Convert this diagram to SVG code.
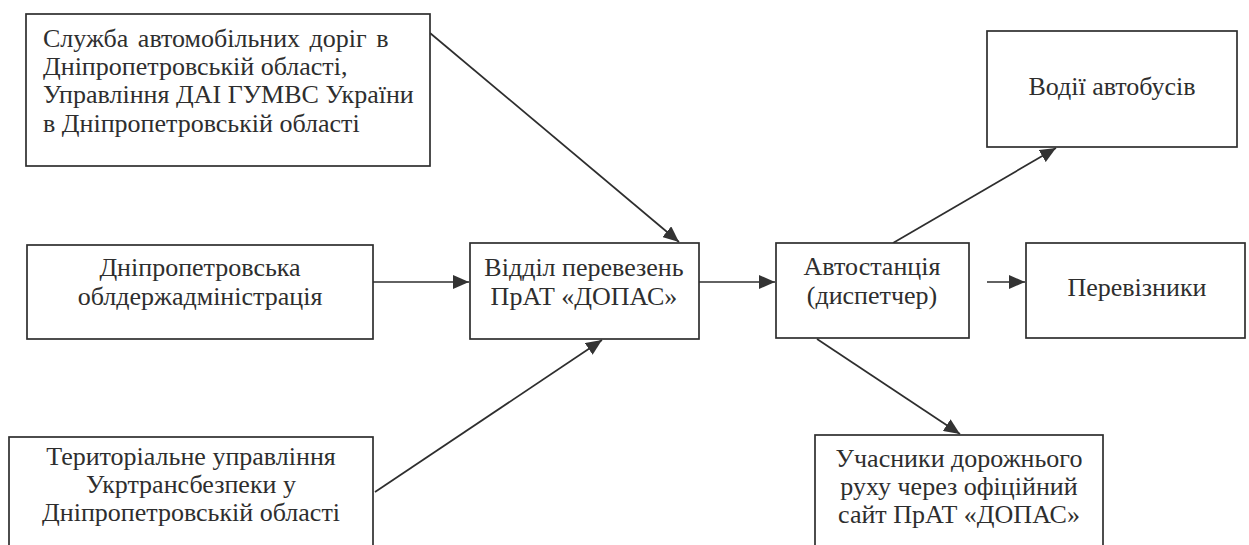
<svg xmlns="http://www.w3.org/2000/svg" width="1249" height="545" viewBox="0 0 1249 545">
<style>
.box{fill:#fff;stroke:#2e2e2e;stroke-width:1.7}
.t{font-family:"Liberation Serif","Times New Roman","DejaVu Serif",serif;font-size:26px;fill:#2e2e2e}
.c{text-anchor:middle}
.ln{stroke:#2e2e2e;stroke-width:1.7;fill:none;marker-end:url(#ah)}
</style>
<defs>
<marker id="ah" markerUnits="userSpaceOnUse" markerWidth="18" markerHeight="14" refX="16" refY="7" orient="auto">
<path d="M0,0 L16,7 L0,14 Z" fill="#333"/>
</marker>
</defs>
<rect width="1249" height="545" fill="#fff"/>
<g id="connectors">
<line class="ln" x1="430" y1="33" x2="679" y2="242"/>
<line class="ln" x1="373" y1="282" x2="469" y2="282"/>
<line class="ln" x1="375" y1="492" x2="602" y2="340"/>
<line class="ln" x1="699" y1="282" x2="775" y2="282"/>
<line class="ln" x1="893" y1="243" x2="1056" y2="148"/>
<line class="ln" x1="987" y1="282" x2="1025" y2="282"/>
<line class="ln" x1="817" y1="339" x2="960" y2="434"/>
</g>
<g id="n-sluzhba">
<rect class="box" x="26" y="14" width="404" height="152"/>
<text class="t" x="43" y="47" word-spacing="3">Служба автомобільних доріг в</text>
<text class="t" x="43" y="75">Дніпропетровській області,</text>
<text class="t" x="43" y="103">Управління ДАІ ГУМВС України</text>
<text class="t" x="43" y="132">в Дніпропетровській області</text>
</g>
<g id="n-oda">
<rect class="box" x="27" y="245" width="346" height="94"/>
<text class="t c" x="200" y="276">Дніпропетровська</text>
<text class="t c" x="200" y="305">облдержадміністрація</text>
</g>
<g id="n-terytorialne">
<rect class="box" x="9" y="437" width="364" height="130"/>
<text class="t c" x="191" y="465">Територіальне управління</text>
<text class="t c" x="191" y="493">Укртрансбезпеки у</text>
<text class="t c" x="191" y="521">Дніпропетровській області</text>
</g>
<g id="n-viddil">
<rect class="box" x="470" y="243" width="229" height="96"/>
<text class="t c" x="584" y="276">Відділ перевезень</text>
<text class="t c" x="584" y="305">ПрАТ «ДОПАС»</text>
</g>
<g id="n-avtostantsiia">
<rect class="box" x="776" y="243" width="193" height="95"/>
<text class="t c" x="872" y="275">Автостанція</text>
<text class="t c" x="872" y="304">(диспетчер)</text>
</g>
<g id="n-vodii">
<rect class="box" x="987" y="31" width="250" height="116"/>
<text class="t c" x="1112" y="95">Водії автобусів</text>
</g>
<g id="n-perevizniki">
<rect class="box" x="1026" y="243" width="219" height="95"/>
<text class="t c" x="1137" y="296">Перевізники</text>
</g>
<g id="n-uchasnyky">
<rect class="box" x="815" y="435" width="288" height="130"/>
<text class="t c" x="959" y="467">Учасники дорожнього</text>
<text class="t c" x="959" y="495">руху через офіційний</text>
<text class="t c" x="959" y="523">сайт ПрАТ «ДОПАС»</text>
</g>
</svg>
